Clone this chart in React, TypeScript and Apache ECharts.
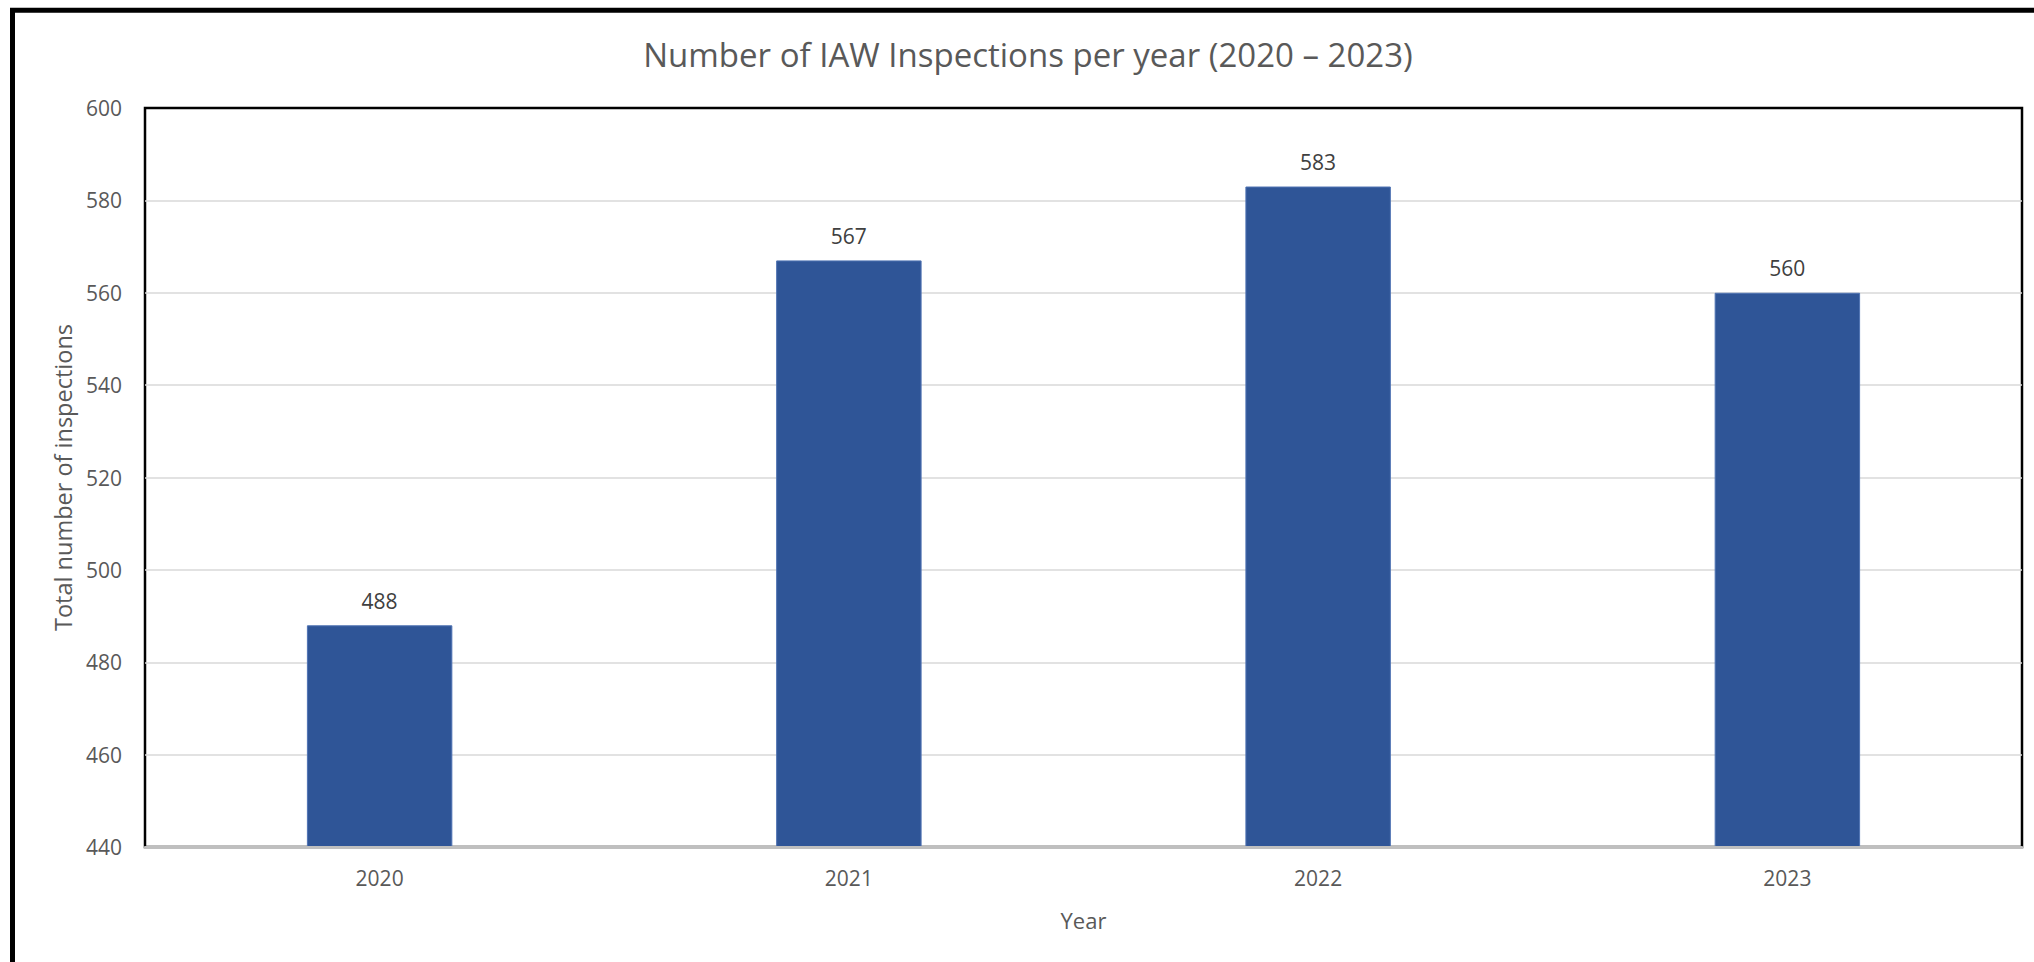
import React, { useEffect, useRef } from "react";
import * as echarts from "echarts";

const years = ["2020", "2021", "2022", "2023"];
const inspections = [488, 567, 583, 560];
const yTicks = { min: 440, max: 600, interval: 20 };
const titleText = "Number of IAW Inspections per year (2020 – 2023)";
const xName = "Year";
const yName = "Total number of inspections";

const FONT = "'Open Sans', 'Noto Sans', sans-serif";

export default function App() {
  const ref = useRef<HTMLDivElement>(null);
  useEffect(() => {
    if (!ref.current) return;
    const chart = echarts.init(ref.current, undefined, { renderer: "svg" });
    chart.setOption({
      animation: false,
      backgroundColor: "#ffffff",
      textStyle: { fontFamily: FONT },
      title: {
        text: titleText,
        left: 1023,
        top: 33,
        textAlign: "center",
        textStyle: { fontFamily: FONT, fontSize: 33, fontWeight: "normal", color: "#595959" },
      },
      graphic: [
        {
          type: "rect",
          shape: { x: 12.5, y: 10.3, width: 2100, height: 1100 },
          style: { fill: "none", stroke: "#000", lineWidth: 5 },
          silent: true,
        },
      ],
      grid: {
        left: 145,
        top: 108,
        right: 12,
        bottom: 115,
        show: true,
        borderColor: "#000",
        borderWidth: 2.5,
        backgroundColor: "transparent",
      },
      xAxis: {
        type: "category",
        data: years,
        name: xName,
        nameLocation: "middle",
        nameGap: 62,
        nameTextStyle: { fontFamily: FONT, fontSize: 22, color: "#595959" },
        axisLine: { show: true, lineStyle: { color: "#bfbfbf", width: 3 } },
        axisTick: { show: false },
        axisLabel: { fontFamily: FONT, fontSize: 21, color: "#595959", margin: 20 },
        z: 5,
      },
      yAxis: {
        type: "value",
        min: yTicks.min,
        max: yTicks.max,
        interval: yTicks.interval,
        name: yName,
        nameLocation: "middle",
        nameGap: 70,
        nameTextStyle: { fontFamily: FONT, fontSize: 23.5, color: "#595959" },
        axisLine: { show: false },
        axisTick: { show: false },
        axisLabel: { fontFamily: FONT, fontSize: 21, color: "#595959", margin: 23 },
        splitLine: {
          show: true,
          showMaxLine: false,
          showMinLine: false,
          lineStyle: { color: "#d9d9d9", width: 1.5 },
        },
      },
      series: [
        {
          type: "bar",
          data: inspections,
          barWidth: "31%",
          itemStyle: { color: "#2f5597", borderColor: "#4f73b3", borderWidth: 1 },
          label: {
            show: true,
            position: "top",
            distance: 14,
            fontFamily: FONT,
            fontSize: 21,
            color: "#404040",
          },
        },
      ],
    });
    return () => chart.dispose();
  }, []);
  return (
    <div
      ref={ref}
      style={{ position: "fixed", left: 0, top: 0, width: 2034, height: 962 }}
    />
  );
}
